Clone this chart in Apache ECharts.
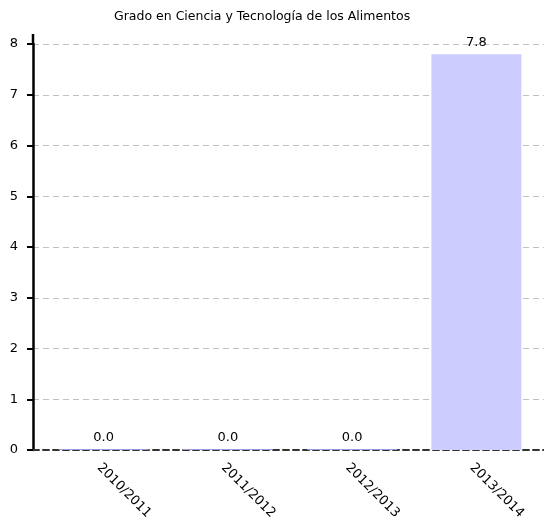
<!DOCTYPE html>
<html>
<head>
<meta charset="utf-8">
<script src="https://cdn.jsdelivr.net/npm/echarts@6/dist/echarts.min.js"></script>
<style>html,body{margin:0;padding:0;background:#fff}#c{width:544px;height:530px}</style>
</head>
<body>
<div id="c"></div>
<script>
var titleText = 'Grado en Ciencia y Tecnología de los Alimentos';
var categories = ['2010/2011', '2011/2012', '2012/2013', '2013/2014'];
var values = [0.0, 0.0, 0.0, 7.8];
var yTicks = [0, 1, 2, 3, 4, 5, 6, 7, 8];

var FONT = 'DejaVu Sans';
var chart = echarts.init(document.getElementById('c'), null, {renderer: 'canvas'});
var yMin = yTicks[0], yMax = yTicks[yTicks.length - 1];
chart.setOption({
  animation: false,
  backgroundColor: '#ffffff',
  title: {
    text: titleText, left: 109, top: 5,
    textStyle: {fontFamily: FONT, fontSize: 12.5, fontWeight: 'normal', color: '#000'}
  },
  grid: [
    {left: 33, right: 0, top: 44, bottom: 80, containLabel: false},
    {left: 41.5, right: 5.5, top: 44, bottom: 80, containLabel: false}
  ],
  xAxis: [
    {type: 'category', gridIndex: 0, data: categories, boundaryGap: true,
     axisLine: {show: true, lineStyle: {color: '#333', width: 2, type: [6, 4]}},
     axisTick: {show: false}, axisLabel: {show: false}, splitLine: {show: false}},
    {type: 'category', gridIndex: 1, data: categories, boundaryGap: true,
     axisLine: {show: false}, axisTick: {show: false}, splitLine: {show: false},
     axisLabel: {rotate: -45, margin: 11, verticalAlign: 'top', fontFamily: FONT, fontSize: 13, color: '#000', interval: 0}}
  ],
  yAxis: [
    {type: 'value', gridIndex: 0, min: yMin, max: yMax, interval: 1,
     axisLine: {show: true, lineStyle: {color: '#000', width: 2.5}},
     axisTick: {show: true, length: 6, lineStyle: {color: '#000', width: 2}},
     axisLabel: {margin: 15, fontFamily: FONT, fontSize: 13, color: '#000'},
     splitLine: {show: true, lineStyle: {color: '#c0c0c0', width: 1, type: [6, 4]}}},
    {type: 'value', gridIndex: 1, min: yMin, max: yMax, interval: 1, show: false}
  ],
  graphic: [
    {type: 'line', shape: {x1: 33, y1: 34, x2: 33, y2: 44}, style: {stroke: '#000', lineWidth: 2.5}, z: 10}
  ],
  series: [{
    type: 'bar', xAxisIndex: 1, yAxisIndex: 1, data: values,
    barWidth: 90, barMinHeight: 1,
    itemStyle: {color: function (p) { return p.value > 0 ? '#ccccff' : '#9999dd'; }},
    label: {show: true, position: 'top', distance: 5, fontFamily: FONT, fontSize: 13, color: '#000',
            formatter: function (p) { return p.value.toFixed(1); }}
  }]
});
</script>
</body>
</html>
